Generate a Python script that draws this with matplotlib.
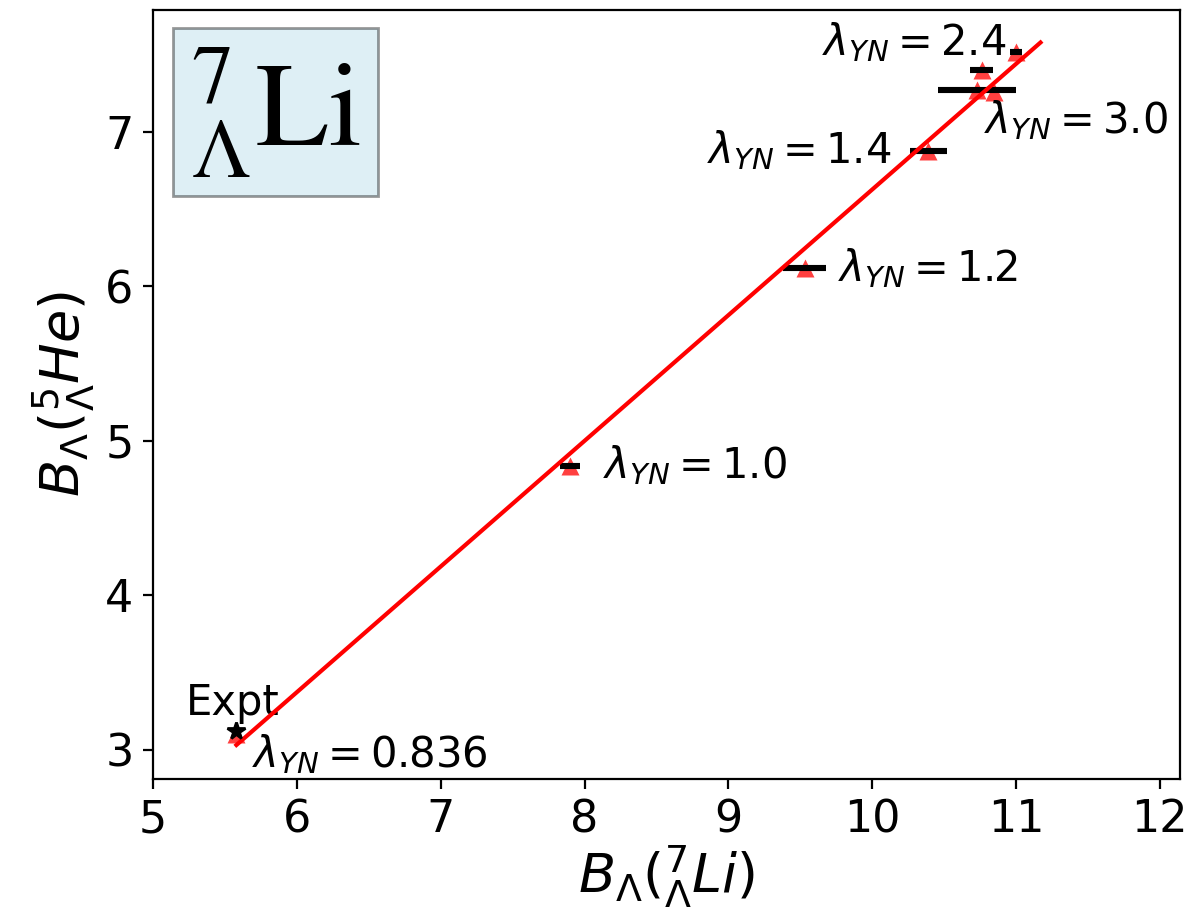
import numpy as np
import matplotlib
matplotlib.use("Agg")
import matplotlib.pyplot as plt

# binding energies (MeV) for the different lambda_YN choices
B_Li = [5.58, 7.90, 9.53, 10.39, 10.76, 10.73, 10.85, 11.00]
B_He = [3.10, 4.84, 6.12, 6.88, 7.40, 7.27, 7.26, 7.52]
B_Li_err = [0.0, 0.07, 0.15, 0.13, 0.08, 0.27, 0.0, 0.04]

# experimental point
expt_Li = 5.58
expt_He = 3.12

# linear correlation line
fit_x = [5.58, 11.17]
fit_y = [3.03, 7.58]

# labels: (text, x, y)
labels = [
    (r"$\lambda_{YN}=0.836$", 5.69, 2.97),
    (r"$\lambda_{YN}=1.0$", 8.13, 4.84),
    (r"$\lambda_{YN}=1.2$", 9.76, 6.12),
    (r"$\lambda_{YN}=1.4$", 8.85, 6.88),
    (r"$\lambda_{YN}=2.4$", 9.65, 7.58),
    (r"$\lambda_{YN}=3.0$", 10.78, 7.08),
]

fig = plt.figure(figsize=(5.99, 4.58), dpi=200)
ax = fig.add_axes([0.1277, 0.1496, 0.8573, 0.8394])

ax.plot(B_Li, B_He, "^", color="red", alpha=0.75, ms=6.5, mec="none", zorder=2)
ax.errorbar(B_Li, B_He, xerr=B_Li_err, fmt="none", ecolor="black", elinewidth=2.2, zorder=3)
ax.plot(fit_x, fit_y, "-", color="red", lw=1.5, zorder=4)
ax.plot(expt_Li, expt_He, "*", color="black", ms=6.5, zorder=5)

ax.text(5.23, 3.30, "Expt", fontsize=15, va="center", ha="left")
for txt, x, y in labels:
    ax.text(x, y, txt, fontsize=15, va="center", ha="left")

ax.text(0.036, 0.955, r"$^{7}_{\Lambda}\mathrm{Li}$", transform=ax.transAxes,
        fontsize=43, math_fontfamily="stix", va="top", ha="left",
        bbox=dict(facecolor="lightblue", alpha=0.4, pad=6))

ax.set_xlim(5, 12.14)
ax.set_ylim(2.81, 7.79)
ax.set_xticks([5, 6, 7, 8, 9, 10, 11, 12])
ax.set_yticks([3, 4, 5, 6, 7])
ax.tick_params(labelsize=16)
ax.set_xlabel(r"$B_{\Lambda}(^{7}_{\Lambda}Li)$", fontsize=19.5, labelpad=1)
ax.set_ylabel(r"$B_{\Lambda}(^{5}_{\Lambda}He)$", fontsize=19.5, labelpad=3)

fig.savefig("out.png", dpi=200)
